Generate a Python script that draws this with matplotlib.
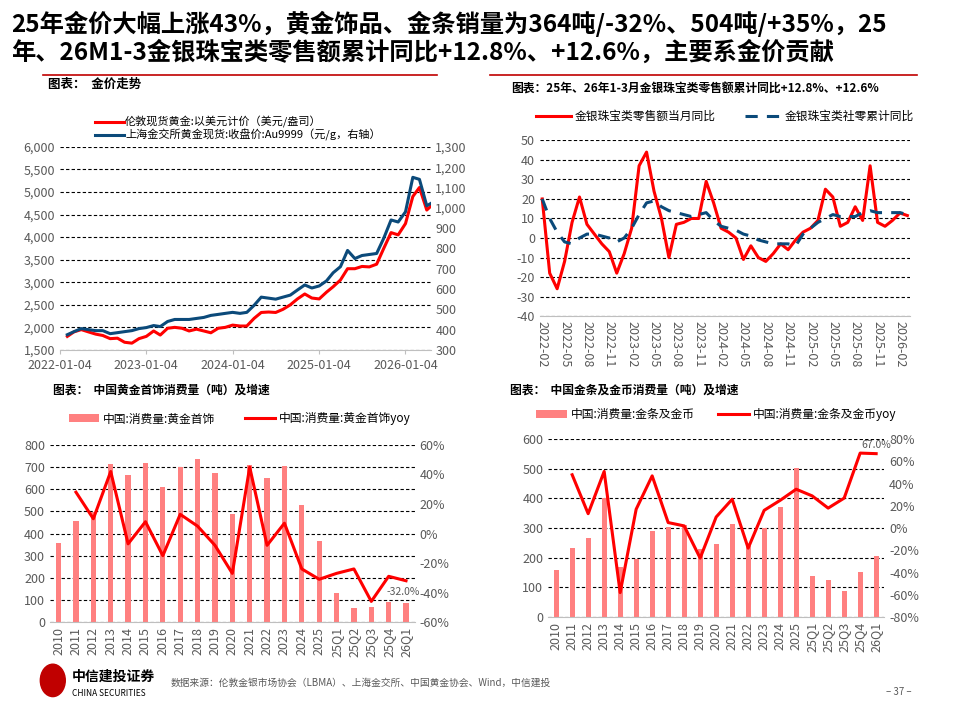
import matplotlib
matplotlib.use("Agg")
import matplotlib.pyplot as plt
import numpy as np
import pandas as pd

plt.rcParams['font.family'] = ['Noto Sans CJK SC', 'DejaVu Sans']
plt.rcParams['axes.unicode_minus'] = False

# ---- chart 1 data (monthly) ----
c1_dates = pd.date_range('2022-01-04', periods=52, freq='MS') + pd.Timedelta(days=3)
london = [1800,1900,1950,1900,1850,1820,1750,1760,1670,1650,1750,1800,
          1920,1830,1980,2000,1980,1920,1960,1920,1880,1980,2000,2050,
          2030,2030,2200,2330,2340,2330,2400,2500,2630,2740,2650,2630,
          2780,2900,3050,3300,3300,3350,3340,3400,3750,4100,4050,4300,
          4900,5100,4600,4750]
sge = [375,390,405,400,395,395,380,385,390,395,405,410,
       420,415,440,450,450,450,455,460,470,475,480,485,
       480,485,520,560,555,550,560,570,595,620,605,615,
       640,680,710,790,750,765,770,775,850,940,930,980,
       1150,1140,1010,1030]

# ---- chart 2 data ----
c2_months = pd.period_range('2022-02', '2026-03', freq='M')
monthly_yoy = [20,-18,-26,-12,8,21,7,2,-3,-7,-18,-8,
               5,37,44,24,10,-10,7,8,10,10,29,18,
               5,3,0,-11,-4,-10,-12,-8,-3,-6,-1,3,
               5,9,25,21,6,8,16,9,37,8,6,9,12.8,11.5]
cum_yoy = [20,10,3,-2,-3,0,2,2,1,0,-2,0,
           5,12,18,19,16,14,13,12,11,12,13,9,
           6,5,4,2,1,-1,-2,-3,-3,-3,-4,2,
           5,8,10,12,11,11,11,13,14,13,13,13,13,12]

# ---- chart 3 data ----
cats = ['2010','2011','2012','2013','2014','2015','2016','2017','2018','2019','2020',
        '2021','2022','2023','2024','2025','25Q1','25Q2','25Q3','25Q4','26Q1']
jewel = [355,458,495,715,665,720,610,700,735,675,490,710,650,705,530,365,133,65,70,92,85]
jewel_yoy = [np.nan,28,10,42,-7,8,-15,13,5,-8,-27,45,-8,7,-24,-31,-27,-24,-46,-29,-32]

# ---- chart 4 data ----
bar = [160,233,267,400,170,195,290,305,310,228,246,315,240,300,370,502,138,125,88,152,205]
bar_yoy = [np.nan,48,13,51,-58,17,47,5,2,-27,10,26,-18,16,25,35,29,18,27,67.5,67]

RED = '#FF0000'
BLUE = '#0B4A7A'
PINK = '#FF8080'
GREY = '#595959'

fig = plt.figure(figsize=(9.6, 7.2), dpi=100)

fig.text(0.012, 0.985, '25年金价大幅上涨43%，黄金饰品、金条销量为364吨/-32%、504吨/+35%，25\n年、26M1-3金银珠宝类零售额累计同比+12.8%、+12.6%，主要系金价贡献',
         fontsize=17.5, fontweight='bold', va='top', ha='left', linespacing=1.15)
fig.add_artist(plt.Line2D([0.045, 0.455], [0.896, 0.896], color='#C00000', lw=1.2))
fig.add_artist(plt.Line2D([0.51, 0.955], [0.896, 0.896], color='#C00000', lw=1.2))

def style(ax):
    ax.grid(axis='y', ls=(0, (3, 2)), color='black', lw=0.8)
    ax.set_axisbelow(True)
    for s in ['top', 'right', 'left']:
        ax.spines[s].set_visible(False)
    ax.spines['bottom'].set_color('#BFBFBF')
    ax.tick_params(colors=GREY, labelsize=9, length=0)

def style2(ax2):
    for s in ax2.spines.values():
        s.set_visible(False)
    ax2.tick_params(colors=GREY, labelsize=9, length=0)

# chart 1
fig.text(0.05, 0.878, '图表：  金价走势', fontsize=9, fontweight='bold')
ax1 = fig.add_axes([0.0625, 0.514, 0.386, 0.282])
ax1b = ax1.twinx()
ax1.plot(c1_dates, london, color=RED, lw=2.2, label='伦敦现货黄金:以美元计价（美元/盎司）')
ax1b.plot(c1_dates, sge, color=BLUE, lw=2.2, label='上海金交所黄金现货:收盘价:Au9999（元/g，右轴）')
ax1.set_ylim(1500, 6000); ax1.set_yticks(range(1500, 6001, 500))
ax1.set_yticklabels([f'{v:,}' for v in range(1500, 6001, 500)])
ax1b.set_ylim(300, 1300); ax1b.set_yticks(range(300, 1301, 100))
ax1b.set_yticklabels([f'{v:,}' for v in range(300, 1301, 100)])
ax1.set_xlim(pd.Timestamp('2022-01-04'), pd.Timestamp('2026-04-20'))
tk = [pd.Timestamp(f'{y}-01-04') for y in range(2022, 2027)]
ax1.set_xticks(tk); ax1.set_xticklabels([t.strftime('%Y-%m-%d') for t in tk])
style(ax1); style2(ax1b)
ax1.tick_params(axis='x', length=3, color='#BFBFBF')
h1, l1 = ax1.get_legend_handles_labels(); h2, l2 = ax1b.get_legend_handles_labels()
ax1.legend(h1 + h2, l1 + l2, loc='lower left', bbox_to_anchor=(0.08, 1.0), frameon=False,
           fontsize=8, handlelength=2.6, labelspacing=0.1, borderpad=0, handletextpad=0.1)

# chart 2
fig.text(0.532, 0.872, '图表：25年、26年1-3月金银珠宝类零售额累计同比+12.8%、+12.6%', fontsize=8.5, fontweight='bold')
ax2 = fig.add_axes([0.5625, 0.561, 0.385, 0.244])
x2 = np.arange(len(c2_months))
ax2.plot(x2, monthly_yoy, color=RED, lw=2.2, label='金银珠宝类零售额当月同比')
ax2.plot(x2, cum_yoy, color=BLUE, lw=2.2, ls=(0, (4, 3)), label='金银珠宝类社零累计同比')
ax2.set_ylim(-40, 50); ax2.set_yticks(range(-40, 51, 10))
ax2.set_xlim(-0.3, len(x2) - 0.7)
ax2.set_xticks(x2[::3]); ax2.set_xticklabels([str(p) for p in c2_months[::3]], rotation=-90)
style(ax2)
ax2.legend(loc='lower center', bbox_to_anchor=(0.5, 1.04), ncol=2, frameon=False, fontsize=8.5,
           handlelength=3, columnspacing=2.5, handletextpad=0.3)

# chart 3
fig.text(0.055, 0.453, '图表：  中国黄金首饰消费量（吨）及增速', fontsize=8.5, fontweight='bold')
ax3 = fig.add_axes([0.052, 0.136, 0.38, 0.246])
ax3b = ax3.twinx()
x3 = np.arange(len(cats))
ax3.bar(x3, jewel, width=0.3, color=PINK, label='中国:消费量:黄金首饰')
ax3b.plot(x3, jewel_yoy, color=RED, lw=2.2, label='中国:消费量:黄金首饰yoy')
ax3b.text(x3[-1] - 0.15, jewel_yoy[-1] - 4, '-32.0%', fontsize=7.5, color=GREY, ha='center', va='top')
ax3.set_ylim(0, 800); ax3.set_yticks(range(0, 801, 100))
ax3b.set_ylim(-60, 60); ax3b.set_yticks(range(-60, 61, 20))
ax3b.set_yticklabels([f'{v}%' for v in range(-60, 61, 20)])
ax3.set_xlim(-0.5, len(cats) - 0.5)
ax3.set_xticks(x3); ax3.set_xticklabels(cats, rotation=90)
style(ax3); style2(ax3b)
hA, lA = ax3.get_legend_handles_labels(); hB, lB = ax3b.get_legend_handles_labels()
ax3.legend(hA + hB, lA + lB, loc='lower center', bbox_to_anchor=(0.52, 1.05), ncol=2, frameon=False,
           fontsize=8.5, handlelength=2.6, columnspacing=2.5, handletextpad=0.3)

# chart 4
fig.text(0.531, 0.453, '图表：  中国金条及金币消费量（吨）及增速', fontsize=8.5, fontweight='bold')
ax4 = fig.add_axes([0.571, 0.143, 0.35, 0.247])
ax4b = ax4.twinx()
ax4.bar(x3, bar, width=0.3, color=PINK, label='中国:消费量:金条及金币')
ax4b.plot(x3, bar_yoy, color=RED, lw=2.2, label='中国:消费量:金条及金币yoy')
ax4b.text(x3[-1], 70, '67.0%', fontsize=7.5, color=GREY, ha='center', va='bottom')
ax4.set_ylim(0, 600); ax4.set_yticks(range(0, 601, 100))
ax4b.set_ylim(-80, 80); ax4b.set_yticks(range(-80, 81, 20))
ax4b.set_yticklabels([f'{v}%' for v in range(-80, 81, 20)])
ax4.set_xlim(-0.5, len(cats) - 0.5)
ax4.set_xticks(x3); ax4.set_xticklabels(cats, rotation=90)
style(ax4); style2(ax4b)
hA, lA = ax4.get_legend_handles_labels(); hB, lB = ax4b.get_legend_handles_labels()
ax4.legend(hA + hB, lA + lB, loc='lower center', bbox_to_anchor=(0.5, 1.04), ncol=2, frameon=False,
           fontsize=8.5, handlelength=2.6, columnspacing=2.0, handletextpad=0.3)

# footer
fig.add_artist(matplotlib.patches.Ellipse((0.055, 0.055), 0.026, 0.045, color='#C00000'))
fig.text(0.075, 0.06, '中信建投证券', fontsize=10, fontweight='bold', va='center')
fig.text(0.075, 0.037, 'CHINA SECURITIES', fontsize=6, va='center')
fig.text(0.178, 0.052, '数据来源：伦敦金银市场协会（LBMA）、上海金交所、中国黄金协会、Wind，中信建投',
         fontsize=7, style='italic', color=GREY, va='center')
fig.text(0.95, 0.035, '– 37 –', fontsize=7, color=GREY, ha='right')

fig.savefig('out.png', dpi=100)
